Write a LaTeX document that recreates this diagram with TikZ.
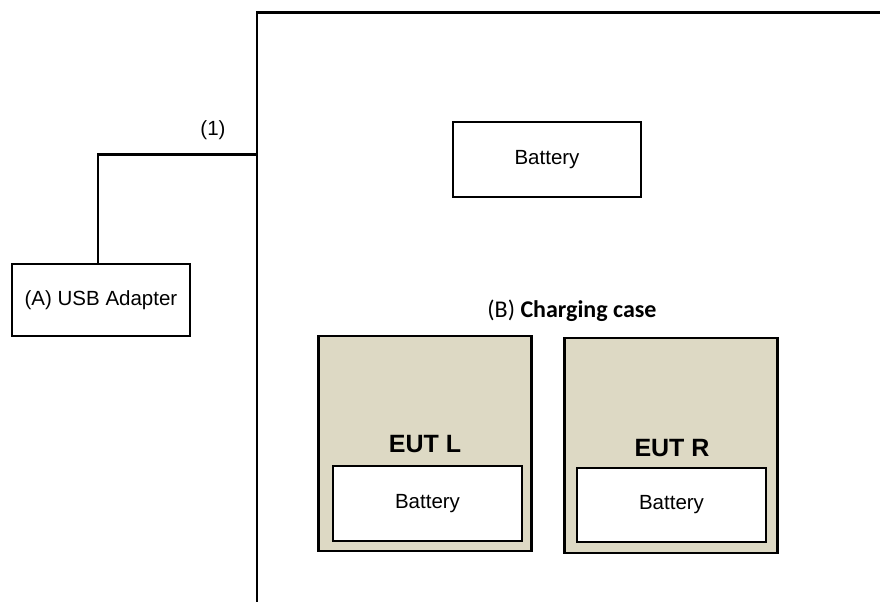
\documentclass[tikz,border=0pt]{standalone}
\usepackage{fontspec}
\setmainfont{Liberation Sans}
\newfontfamily\calfont{Carlito}
\usetikzlibrary{positioning}
\definecolor{casebeige}{HTML}{DDD9C4}

\begin{document}
\begin{tikzpicture}[x=1pt,y=-1pt,
  box/.style={draw,line width=2.2pt,fill=white,inner sep=0pt,font=\fontsize{20.5}{24}\selectfont},
  eutbox/.style={draw,line width=2.2pt,fill=casebeige,inner sep=0pt,minimum width=213pt,minimum height=215pt},
  euttext/.style={font=\fontsize{25}{28}\selectfont\bfseries,inner sep=0pt}]
  \useasboundingbox (0,0) rectangle (880,602);
  % charging case outline
  \draw[line width=2.2pt] (880,12.5) -- (257,12.5) -- (257,602);
  \coordinate (casein) at (257,154.5);
  % nodes
  \node[box,minimum width=178pt,minimum height=72pt] (usb) at (101,300) {(A) USB Adapter};
  \node[box,minimum width=188pt,minimum height=75pt] (batC) at (547,159.5) {Battery};
  \node[font=\calfont\fontsize{24}{28}\selectfont,inner sep=0pt] (caseB) at (572,311) {(B) \textbf{Charging case}};
  \node[eutbox] (eutL) at (425,443.5) {};
  \node[eutbox] (eutR) at (671,445.5) {};
  \node[box,minimum width=189pt,minimum height=75pt] (batL) at (427.5,503.5) {Battery};
  \node[box,minimum width=189pt,minimum height=74pt] (batR) at (671.5,505) {Battery};
  \node[euttext] (labL) at (425,444) {EUT L};
  \node[euttext] (labR) at (672,448) {EUT R};
  % cable
  \draw[line width=2.2pt] ([xshift=-3pt]usb.north) |- (casein);
  \node[font=\fontsize{20.5}{24}\selectfont,inner sep=0pt] (cable) at (213,130) {(1)};
\end{tikzpicture}
\end{document}
